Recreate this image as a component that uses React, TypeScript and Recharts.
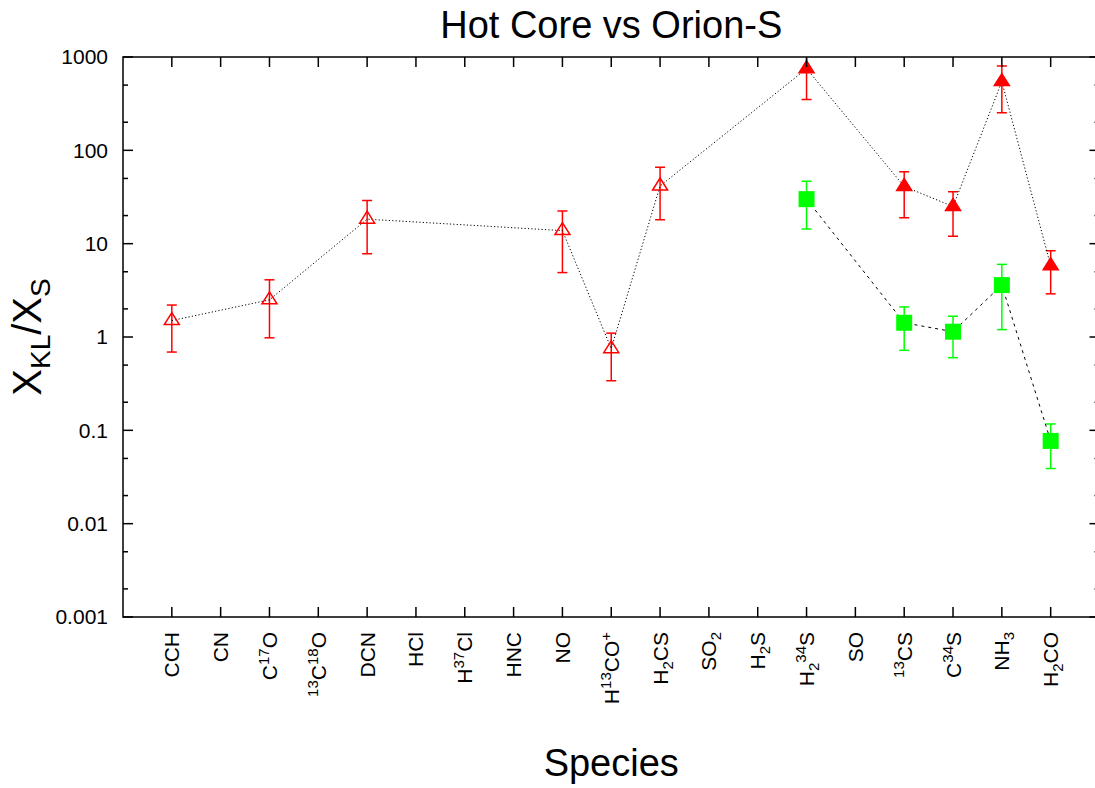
import React from 'react';
import { LineChart, Line, XAxis, YAxis, ErrorBar, ReferenceArea, Label } from 'recharts';

const FONT = '"Liberation Sans", Arial, Helvetica, sans-serif';

// plot frame in page pixels
const LEFT = 123;
const RIGHT = 1099.5;
const TOP = 57;
const BOTTOM = 617;

const species = [
  'CCH', 'CN', 'C17O', '13C18O', 'DCN', 'HCl', 'H37Cl', 'HNC', 'NO', 'H13CO+',
  'H2CS', 'SO2', 'H2S', 'H2 34S', 'SO', '13CS', 'C34S', 'NH3', 'H2CO',
];

// tick labels split in pieces: n = normal, sup / sub
const speciesLabels: [string, string][][] = [
  [['CCH', 'n']],
  [['CN', 'n']],
  [['C', 'n'], ['17', 'sup'], ['O', 'n']],
  [['13', 'sup'], ['C', 'n'], ['18', 'sup'], ['O', 'n']],
  [['DCN', 'n']],
  [['HCl', 'n']],
  [['H', 'n'], ['37', 'sup'], ['Cl', 'n']],
  [['HNC', 'n']],
  [['NO', 'n']],
  [['H', 'n'], ['13', 'sup'], ['CO', 'n'], ['+', 'sup']],
  [['H', 'n'], ['2', 'sub'], ['CS', 'n']],
  [['SO', 'n'], ['2', 'sub']],
  [['H', 'n'], ['2', 'sub'], ['S', 'n']],
  [['H', 'n'], ['2', 'sub'], ['34', 'sup'], ['S', 'n']],
  [['SO', 'n']],
  [['13', 'sup'], ['CS', 'n']],
  [['C', 'n'], ['34', 'sup'], ['S', 'n']],
  [['NH', 'n'], ['3', 'sub']],
  [['H', 'n'], ['2', 'sub'], ['CO', 'n']],
];

// red triangles: ratio with lower / upper error limits
const triValue = [1.5, null, 2.5, null, 18.3, null, null, null, 13.8, 0.75, 41.5, null, null, 750, null, 41, 25, 545, 5.8];
const triLow = [0.69, null, 0.98, null, 7.8, null, null, null, 4.9, 0.34, 18, null, null, 350, null, 19, 12, 253, 2.9];
const triHigh = [2.2, null, 4.1, null, 29, null, null, null, 22.4, 1.1, 66, null, null, 1300, null, 59, 36, 800, 8.4];
const triFilled = ['H2 34S', '13CS', 'C34S', 'NH3', 'H2CO'];

// green squares
const sqValue = [null, null, null, null, null, null, null, null, null, null, null, null, null, 30, null, 1.42, 1.14, 3.6, 0.077];
const sqLow = [null, null, null, null, null, null, null, null, null, null, null, null, null, 14.4, null, 0.72, 0.6, 1.2, 0.039];
const sqHigh = [null, null, null, null, null, null, null, null, null, null, null, null, null, 46.7, null, 2.1, 1.67, 6.0, 0.117];

const yTicks = [0.001, 0.002, 0.005, 0.01, 0.02, 0.05, 0.1, 0.2, 0.5, 1, 2, 5, 10, 20, 50, 100, 200, 500, 1000];
const xTicks = species.map((_, i) => i);

const rows = species.map((name, i) => ({
  i,
  name,
  tri: triValue[i],
  triErr: triValue[i] == null ? null : [triValue[i]! - triLow[i]!, triHigh[i]! - triValue[i]!],
  sq: sqValue[i],
  sqErr: sqValue[i] == null ? null : [sqValue[i]! - sqLow[i]!, sqHigh[i]! - sqValue[i]!],
}));

function SpeciesTick(props: any) {
  const { x, payload } = props;
  const parts = speciesLabels[payload.value];
  if (!parts) return <g />;
  let shift = 0;
  const spans = parts.map(([t, k], j) => {
    const target = k === 'sup' ? -8 : k === 'sub' ? 5 : 0;
    const dy = target - shift;
    shift = target;
    return (
      <tspan key={j} dy={dy} fontSize={k === 'n' ? 21 : 15}>
        {t}
      </tspan>
    );
  });
  const tx = x + 7.5;
  const ty = BOTTOM + 15;
  return (
    <g>
      <line x1={x} y1={BOTTOM} x2={x} y2={BOTTOM - 10} stroke="#000" strokeWidth={1.5} />
      <line x1={x} y1={TOP} x2={x} y2={TOP + 10} stroke="#000" strokeWidth={1.5} />
      <text x={tx} y={ty} transform={`rotate(-90 ${tx} ${ty})`} textAnchor="end" fontFamily={FONT} fill="#000">
        {spans}
      </text>
    </g>
  );
}

function RatioTick(props: any) {
  const { y, payload } = props;
  const v = payload.value;
  const lg = Math.log10(v);
  const major = Math.abs(lg - Math.round(lg)) < 1e-6;
  const len = major ? 10 : 5;
  return (
    <g>
      <line x1={LEFT} y1={y} x2={LEFT + len} y2={y} stroke="#000" strokeWidth={1.5} />
      <line x1={RIGHT} y1={y} x2={RIGHT - len} y2={y} stroke="#000" strokeWidth={1.5} />
      {major && (
        <text x={LEFT - 15} y={y} dy="0.35em" textAnchor="end" fontSize={21} fontFamily={FONT} fill="#000">
          {String(v)}
        </text>
      )}
    </g>
  );
}

function TriMarker(props: any) {
  const { cx, cy, payload } = props;
  if (cx == null || cy == null || payload.tri == null) return <g key={props.index} />;
  const filled = triFilled.includes(payload.name);
  const w = 15;
  const h = 12;
  const pts = `${cx - w / 2},${cy + h / 3} ${cx + w / 2},${cy + h / 3} ${cx},${cy - (2 * h) / 3}`;
  return (
    <polygon
      key={props.index}
      points={pts}
      fill={filled ? '#ff0000' : 'none'}
      stroke="#ff0000"
      strokeWidth={1.5}
    />
  );
}

function SqMarker(props: any) {
  const { cx, cy, payload } = props;
  if (cx == null || cy == null || payload.sq == null) return <g key={props.index} />;
  return <rect key={props.index} x={cx - 8} y={cy - 8} width={16} height={16} fill="#00ff00" />;
}

export default function App() {
  return (
    <div
      style={{
        position: 'fixed',
        left: 0,
        top: 0,
        width: 1095,
        height: 788,
        overflow: 'hidden',
        background: '#fff',
      }}
    >
      {/* error bars are not clipped by recharts, clip them to the frame */}
      <style>{'.recharts-errorBars, .recharts-errorBar { clip-path: url(#plotFrameClip); }'}</style>
      <svg width={0} height={0} style={{ position: 'absolute' }}>
        <defs>
          <clipPath id="plotFrameClip" clipPathUnits="userSpaceOnUse">
            <rect x={LEFT} y={TOP} width={RIGHT - LEFT} height={BOTTOM - TOP} />
          </clipPath>
        </defs>
      </svg>
      <div
        style={{
          position: 'absolute',
          left: 0,
          top: 3,
          width: 2 * ((LEFT + RIGHT) / 2),
          textAlign: 'center',
          fontFamily: FONT,
          fontSize: 38,
          lineHeight: '44px',
          color: '#000',
        }}
      >
        Hot Core vs Orion-S
      </div>
      <LineChart
        width={1110}
        height={788}
        data={rows}
        margin={{ top: TOP, right: 1110 - RIGHT, bottom: 51, left: LEFT - 60 }}
      >
        <XAxis
          dataKey="i"
          type="number"
          domain={[-1, 19]}
          ticks={xTicks}
          interval={0}
          allowDataOverflow
          height={120}
          tickSize={0}
          tickMargin={0}
          axisLine={false}
          tickLine={false}
          tick={SpeciesTick}
        >
          <Label
            content={() => (
              <text x={(LEFT + RIGHT) / 2} y={776} textAnchor="middle" fontSize={38} fontFamily={FONT} fill="#000">
                Species
              </text>
            )}
          />
        </XAxis>
        <YAxis
          scale="log"
          domain={[0.001, 1000]}
          ticks={yTicks}
          interval={0}
          allowDataOverflow
          width={60}
          tickSize={0}
          tickMargin={0}
          axisLine={false}
          tickLine={false}
          tick={RatioTick}
        >
          <Label
            content={() => {
              const lx = 41;
              const ly = (TOP + BOTTOM) / 2;
              return (
                <text
                  x={lx}
                  y={ly}
                  transform={`rotate(-90 ${lx} ${ly})`}
                  textAnchor="middle"
                  fontSize={40}
                  fontFamily={FONT}
                  fill="#000"
                >
                  <tspan>X</tspan>
                  <tspan dy={9} fontSize={28}>KL</tspan>
                  <tspan dy={-9}>/X</tspan>
                  <tspan dy={9} fontSize={28}>S</tspan>
                </text>
              );
            }}
          />
        </YAxis>
        <ReferenceArea x1={-1} x2={19} y1={0.001} y2={1000} fill="none" stroke="#000" strokeWidth={1.5} />
        <Line
          dataKey="tri"
          type="linear"
          stroke="#000"
          strokeWidth={1}
          strokeDasharray="1.2 2.2"
          connectNulls
          isAnimationActive={false}
          dot={(p: any) => <TriMarker key={p.index} {...p} />}
          activeDot={false}
        >
          <ErrorBar dataKey="triErr" direction="y" width={5} stroke="#ff0000" strokeWidth={1.5} />
        </Line>
        <Line
          dataKey="sq"
          type="linear"
          stroke="#000"
          strokeWidth={1}
          strokeDasharray="3 4"
          connectNulls
          isAnimationActive={false}
          dot={(p: any) => <SqMarker key={p.index} {...p} />}
          activeDot={false}
        >
          <ErrorBar dataKey="sqErr" direction="y" width={5} stroke="#00ff00" strokeWidth={1.5} />
        </Line>
      </LineChart>
    </div>
  );
}
